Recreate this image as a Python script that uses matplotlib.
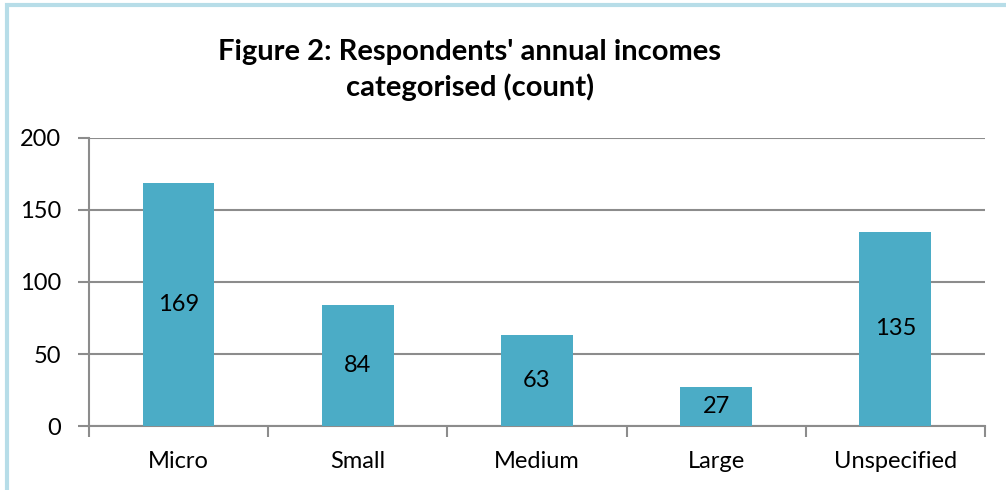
import matplotlib.pyplot as plt
from matplotlib.patches import Rectangle

plt.rcParams['font.family'] = ['Lato', 'DejaVu Sans']

categories = ["Micro", "Small", "Medium", "Large", "Unspecified"]
counts = [169, 84, 63, 27, 135]
title = "Figure 2: Respondents' annual incomes\ncategorised (count)"

bar_color = "#4BACC6"
grid_color = "#8C8C8C"

fig = plt.figure(figsize=(10.06, 4.9), dpi=100)
ax = fig.add_axes([0.0885, 0.1306, 0.8905, 0.5878])

x = range(len(categories))
ax.bar(x, counts, width=0.4, color=bar_color, zorder=3)

# value labels in the middle of each bar, pulled down for short bars
for xi, v in zip(x, counts):
    ax.text(xi, min(v / 2, v - 7), str(v), ha="center", va="center",
            fontsize=17, color="black", zorder=4)

ax.set_xlim(-0.5, len(categories) - 0.5)
ax.set_ylim(0, 200)
ax.set_yticks(range(0, 201, 50))
ax.set_xticks(list(x))
ax.set_xticklabels(categories)
ax.set_xticks([i - 0.5 for i in range(len(categories) + 1)], minor=True)

ax.grid(axis="y", color=grid_color, linewidth=1.5, zorder=0)
for side in ["top", "right"]:
    ax.spines[side].set_visible(False)
for side in ["left", "bottom"]:
    ax.spines[side].set_color(grid_color)
    ax.spines[side].set_linewidth(1.5)

ax.tick_params(axis="x", which="major", length=0, labelsize=17, pad=18)
ax.tick_params(axis="x", which="minor", length=8, width=1.5, color=grid_color)
ax.tick_params(axis="y", length=8, width=1.5, color=grid_color, labelsize=17, pad=12)

fig.text(0.467, 0.857, title, ha="center", va="center", fontsize=21,
         fontweight="bold", linespacing=1.35)

# light blue frame around the chart
fig.patches.append(Rectangle((0.0065, -0.01), 1.1, 1.0, transform=fig.transFigure,
                             fill=False, edgecolor="#B7DDE8", linewidth=3))

fig.savefig("out.png", dpi=100)
